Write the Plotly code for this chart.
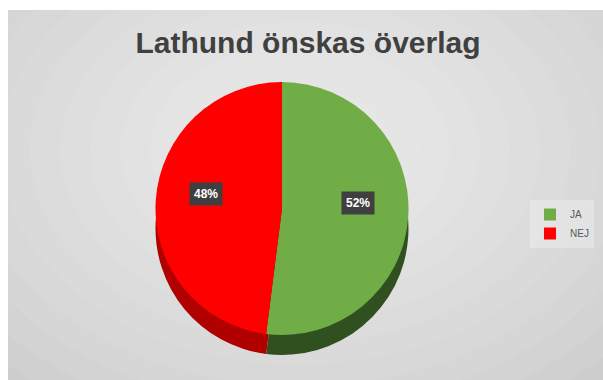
import math
import plotly.graph_objects as go

# ---- data ----
labels = ["JA", "NEJ"]
values = [52, 48]
colors_top = ["#70ad47", "#ff0000"]
colors_side = ["#30501f", "#b00000"]
title_text = "Lathund önskas överlag"

W, H = 603, 380

# pie geometry (pixels)
cx, top_y, diam, depth = 282, 82, 253, 20

def dom_x():
    return [(cx - diam / 2) / W, (cx + diam / 2) / W]

def dom_y(y0):
    return [1 - (y0 + diam) / H, 1 - y0 / H]

fig = go.Figure()

# side (depth) pie
fig.add_trace(go.Pie(
    labels=labels, values=values, sort=False, direction="clockwise", rotation=0,
    marker=dict(colors=colors_side, line=dict(width=0)),
    textinfo="none", hoverinfo="skip", showlegend=False,
    domain=dict(x=dom_x(), y=dom_y(top_y + depth)),
))
# top pie
fig.add_trace(go.Pie(
    labels=labels, values=values, sort=False, direction="clockwise", rotation=0,
    marker=dict(colors=colors_top, line=dict(width=0)),
    textinfo="none", showlegend=True,
    domain=dict(x=dom_x(), y=dom_y(top_y)),
))

# percent labels, placed at slice mid-angles computed from the values
annotations = []
total = sum(values)
cum = 0
cy = top_y + diam / 2
for v in values:
    mid = (cum + v / 2) / total * 2 * math.pi
    cum += v
    r = 0.6 * diam / 2
    px = cx + r * math.sin(mid)
    py = cy - r * math.cos(mid) - 10
    annotations.append(dict(
        x=px / W, y=1 - py / H, xref="paper", yref="paper",
        text="<b>%d%%</b>" % round(v / total * 100), showarrow=False,
        font=dict(family="Liberation Sans", size=12, color="white"),
        bgcolor="#3f3f3f", borderpad=4,
    ))

# background: grey panel with soft radial highlight
shapes = [dict(type="rect", xref="paper", yref="paper", x0=8 / W, x1=1, y0=0, y1=1 - 10 / H,
               fillcolor="#cdcdcd", line=dict(width=0), layer="below")]
n = 14
for i in range(n):
    f = 1 - i / n
    rx, ry = 420 * f, 300 * f
    ccx, ccy = 300, 150
    shapes.append(dict(type="circle", xref="paper", yref="paper",
                       x0=(ccx - rx) / W, x1=(ccx + rx) / W,
                       y0=1 - (ccy + ry) / H, y1=1 - (ccy - ry) / H,
                       fillcolor="white", opacity=0.07, line=dict(width=0), layer="below"))

fig.update_layout(
    width=W, height=H, margin=dict(l=0, r=0, t=0, b=0),
    paper_bgcolor="white",
    title=dict(text="<b>" + title_text + "</b>", x=308 / W, xanchor="center",
               y=1 - 42 / H, yanchor="middle",
               font=dict(family="Liberation Sans", size=30, color="#404040")),
    legend=dict(x=530 / W, xanchor="left", y=1 - 224 / H, yanchor="middle",
                font=dict(family="Liberation Sans", size=10, color="#595959"),
                bgcolor="rgba(255,255,255,0.25)", itemwidth=30, tracegroupgap=0),
    shapes=shapes, annotations=annotations,
)

fig.write_html("out.html")
